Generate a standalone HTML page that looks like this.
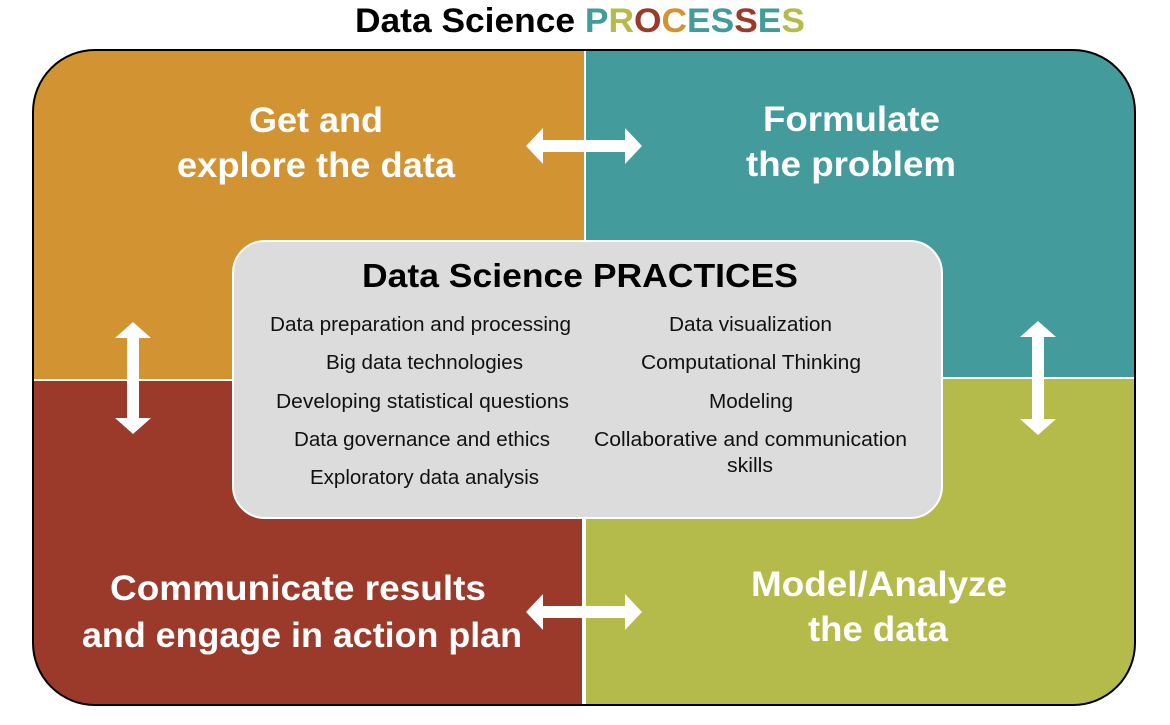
<!DOCTYPE html>
<html><head><meta charset="utf-8"><style>
html,body{margin:0;padding:0;background:#fff;width:1170px;height:725px;overflow:hidden}
svg{display:block}
text{font-family:"Liberation Sans",sans-serif}
</style></head><body>
<svg width="1170" height="725" viewBox="0 0 1170 725">
<defs>
<clipPath id="oc"><rect x="33" y="50" width="1102" height="655" rx="62" ry="62"/></clipPath>
</defs>
<text x="355" y="32" textLength="450" lengthAdjust="spacingAndGlyphs" font-size="34" font-weight="bold" fill="#000">Data Science <tspan fill="#449b9b">P</tspan><tspan fill="#b5bb4a">R</tspan><tspan fill="#9b3a2b">O</tspan><tspan fill="#d29433">C</tspan><tspan fill="#449b9b">E</tspan><tspan fill="#449b9b">S</tspan><tspan fill="#9b3a2b">S</tspan><tspan fill="#449b9b">E</tspan><tspan fill="#b5bb4a">S</tspan></text>
<g clip-path="url(#oc)">
<rect x="33" y="50" width="551" height="329" fill="#d29433"/>
<rect x="586" y="50" width="549" height="327" fill="#449b9b"/>
<rect x="33" y="381" width="549" height="324" fill="#9b3a2b"/>
<rect x="586" y="379" width="549" height="326" fill="#b5bb4a"/>
</g>
<rect x="33" y="50" width="1102" height="655" rx="62" ry="62" fill="none" stroke="#000" stroke-width="2"/>
<rect x="233" y="241" width="709" height="277" rx="32" ry="32" fill="#dcdcdc" stroke="#fff" stroke-width="2"/>
<g fill="#fff" font-weight="bold" font-size="35" lengthAdjust="spacingAndGlyphs">
<text x="249" y="132" textLength="134" lengthAdjust="spacingAndGlyphs">Get and</text>
<text x="177" y="177" textLength="278" lengthAdjust="spacingAndGlyphs">explore the data</text>
<text x="763" y="131" textLength="177" lengthAdjust="spacingAndGlyphs">Formulate</text>
<text x="746" y="176" textLength="210" lengthAdjust="spacingAndGlyphs">the problem</text>
<text x="110" y="600" textLength="376" lengthAdjust="spacingAndGlyphs">Communicate results</text>
<text x="82" y="647" textLength="440" lengthAdjust="spacingAndGlyphs">and engage in action plan</text>
<text x="751" y="596" textLength="256" lengthAdjust="spacingAndGlyphs">Model/Analyze</text>
<text x="808" y="641" textLength="140" lengthAdjust="spacingAndGlyphs">the data</text>
</g>
<text x="362" y="287" textLength="436" lengthAdjust="spacingAndGlyphs" font-size="33" font-weight="bold" fill="#000">Data Science PRACTICES</text>
<g font-size="20" fill="#111">
<text x="270" y="331" textLength="301" lengthAdjust="spacingAndGlyphs">Data preparation and processing</text>
<text x="326" y="369" textLength="197" lengthAdjust="spacingAndGlyphs">Big data technologies</text>
<text x="276" y="408" textLength="293" lengthAdjust="spacingAndGlyphs">Developing statistical questions</text>
<text x="294" y="446" textLength="256" lengthAdjust="spacingAndGlyphs">Data governance and ethics</text>
<text x="310" y="484" textLength="229" lengthAdjust="spacingAndGlyphs">Exploratory data analysis</text>
<text x="669" y="331" textLength="163" lengthAdjust="spacingAndGlyphs">Data visualization</text>
<text x="641" y="369" textLength="220" lengthAdjust="spacingAndGlyphs">Computational Thinking</text>
<text x="709" y="408" textLength="84" lengthAdjust="spacingAndGlyphs">Modeling</text>
<text x="594" y="446" textLength="313" lengthAdjust="spacingAndGlyphs">Collaborative and communication</text>
<text x="727" y="472" textLength="46" lengthAdjust="spacingAndGlyphs">skills</text>
</g>
<g fill="#fff">
<polygon points="526,146 543,128 543,140 625,140 625,128 642,146 625,164 625,152 543,152 543,164"/>
<polygon points="526,612 543,594 543,606 625,606 625,594 642,612 625,630 625,618 543,618 543,630"/>
<polygon points="133,322 151,338 139,338 139,418 151,418 133,434 115,418 127,418 127,338 115,338"/>
<polygon points="1038,321 1056,337 1044,337 1044,419 1056,419 1038,435 1020,419 1032,419 1032,337 1020,337"/>
</g>
</svg>
</body></html>
